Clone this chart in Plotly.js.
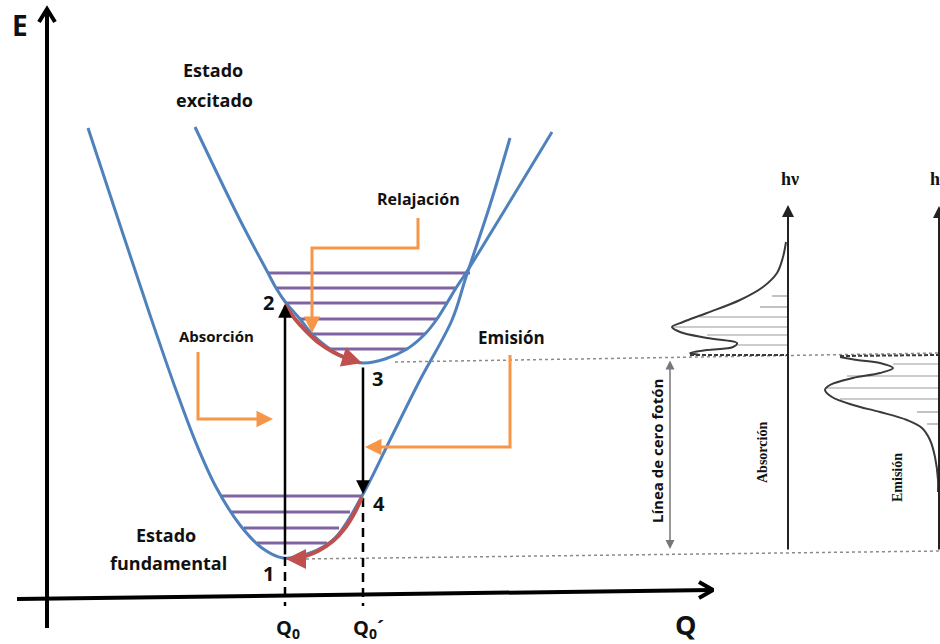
<!DOCTYPE html>
<html>
<head>
<meta charset="utf-8">
<script src="https://cdn.plot.ly/plotly-3.0.1.min.js"></script>
<style>
  html, body { margin: 0; padding: 0; background: #ffffff; }
  #chart { width: 940px; height: 644px; }
</style>
</head>
<body>
<div id="chart"></div>
<script>
// Configuration-coordinate diagram: ground and excited potential wells,
// vibrational levels, absorption / emission transitions and the two band shapes.
// Coordinates live in a 940 x 644 frame whose y axis points downward.

// Potential wells (sampled along each curve)
const groundCurveX  = [88, 120, 150, 176, 196, 216, 240, 262, 283, 310, 335, 362, 390, 420, 452, 466, 490, 510];
const groundCurveY  = [128, 225, 315, 390, 443, 487, 525, 548, 558, 553, 538, 496, 440, 380, 320, 277, 205, 138];
const excitedCurveX = [195, 240, 268, 276, 286, 300, 312, 330, 345, 363, 385, 407, 425, 437, 447, 456, 466, 552];
const excitedCurveY = [127, 220, 273, 288, 303, 319, 334, 349, 358, 363, 359, 349, 334, 319, 303, 288, 273, 132];

// Vibrational levels (energy, left end, right end)
const excitedLevelY = [273, 288, 303, 319, 334, 349];
const excitedLevelL = [268, 276, 286, 300, 312, 330];
const excitedLevelR = [470, 457, 448, 437, 425, 407];
const groundLevelY  = [496, 512, 528, 543];
const groundLevelL  = [220, 231, 244, 257];
const groundLevelR  = [362, 350, 339, 327];

// Non-radiative relaxation paths (excited: 2 -> 3, ground: 4 -> 1)
const relaxExcitedX = [285, 295, 306, 319, 333, 346];
const relaxExcitedY = [305, 319, 331, 343, 352, 358];
const relaxGroundX  = [362, 355, 345, 333, 318, 303, 296];
const relaxGroundY  = [497, 512, 528, 541, 551, 557, 559];

// Transition points 1..4
const pointLabels = ['1', '2', '3', '4'];
const pointLabelX = [268, 268, 377, 379];
const pointLabelY = [573, 302, 378, 503];

// Absorption band (intensity grows to the left of the hν axis)
const absBandX = [786, 783, 777, 763, 740, 707, 683, 672, 680, 707, 737, 733, 707, 690, 700];
const absBandY = [242, 257, 273, 287, 300, 313, 322, 327, 332, 338, 343, 347, 350, 353, 355];
const absHatchY = [296, 307, 317, 327, 335, 345];
const absHatchX = [772, 760, 700, 673, 707, 738];

// Emission band
const emiBandX = [840, 857, 880, 893, 880, 853, 830, 825, 832, 853, 880, 907, 922, 930, 935, 938, 938];
const emiBandY = [357, 360, 363, 368, 373, 378, 385, 390, 397, 405, 412, 420, 428, 440, 457, 480, 492];
const emiHatchY = [364, 376, 388, 399, 412, 424];
const emiHatchX = [893, 847, 827, 840, 917, 927];

const BLUE = 'rgb(79,129,189)';
const PURPLE = 'rgb(128,100,162)';
const ORANGE = 'rgb(247,150,70)';
const RED = 'rgb(192,80,77)';
const SANS = '"Open Sans", Lato, sans-serif';
const SERIF = '"Liberation Serif", "DejaVu Serif", serif';

const traces = [];
function line(xs, ys, color, width, dash, shape) {
  traces.push({
    type: 'scatter', mode: 'lines', x: xs, y: ys, hoverinfo: 'skip',
    line: { color: color, width: width, dash: dash || 'solid', shape: shape || 'linear', smoothing: 1 }
  });
}

// vibrational levels first so the wells sit on top
excitedLevelY.forEach((y, i) => line([excitedLevelL[i], excitedLevelR[i]], [y, y], PURPLE, 3));
groundLevelY.forEach((y, i) => line([groundLevelL[i], groundLevelR[i]], [y, y], PURPLE, 3));

// wells
line(groundCurveX, groundCurveY, BLUE, 3, 'solid', 'spline');
line(excitedCurveX, excitedCurveY, BLUE, 3, 'solid', 'spline');

// reference lines toward the spectra
line([395, 940], [362, 353], '#8a8a8a', 1.5, 'dot');
line([300, 940], [559, 551], '#8a8a8a', 1.5, 'dot');
line([690, 788], [355, 355], '#3a3a3a', 2, '4px,2px');
line([840, 940], [356, 355], '#3a3a3a', 2, '4px,2px');

// dashed projections to Q0 and Q0'
line([285, 285], [557, 606], '#000', 2.5, '9px,6px');
line([363, 363], [498, 606], '#000', 2.5, '9px,6px');

// relaxation paths
line(relaxExcitedX, relaxExcitedY, RED, 4, 'solid', 'spline');
line(relaxGroundX, relaxGroundY, RED, 4, 'solid', 'spline');

// orange callout leaders
line([418, 418, 312, 312], [218, 248, 248, 318], ORANGE, 3);
line([198, 198, 258], [352, 419, 419], ORANGE, 3);
line([510, 510, 380], [355, 447, 447], ORANGE, 3);

// main axes
line([47, 47], [628, 10], '#000', 4);
line([39, 47, 55], [22, 9, 22], '#000', 4);
line([17, 712], [599, 590], '#000', 4);
line([699, 713, 699], [582, 590, 598], '#000', 4);

// spectra: hatching, band outline
absHatchY.forEach((y, i) => line([absHatchX[i], 788], [y, y], '#9a9a9a', 1.2));
emiHatchY.forEach((y, i) => line([emiHatchX[i], 939], [y, y], '#9a9a9a', 1.2));
line(absBandX, absBandY, '#3a3a3a', 2, 'solid', 'spline');
line(emiBandX, emiBandY, '#3a3a3a', 2, 'solid', 'spline');

function arrow(x0, y0, x1, y1, color, width, head, size, sides) {
  return {
    x: x1, y: y1, ax: x0, ay: y0, xref: 'x', yref: 'y', axref: 'x', ayref: 'y',
    showarrow: true, text: '', arrowcolor: color, arrowwidth: width,
    arrowhead: head, arrowsize: size, arrowside: sides || 'end',
    standoff: 0, startstandoff: 0
  };
}
function label(text, x, y, size, opts) {
  opts = opts || {};
  return {
    x: x, y: y, xref: 'x', yref: 'y', text: text, showarrow: false,
    xanchor: opts.xanchor || 'center', yanchor: 'middle', textangle: opts.angle || 0,
    borderpad: 0,
    font: { family: opts.family || SANS, size: size, color: opts.color || '#111', weight: opts.weight || 'bold' }
  };
}

const annotations = [
  // vertical transitions
  arrow(285, 556, 285, 304, '#000', 2.5, 2, 1.1),
  arrow(363, 366, 363, 494, '#000', 2.5, 2, 1.1),
  // relaxation arrow heads
  arrow(346, 358, 362, 363, RED, 4, 2, 1.0),
  arrow(297, 559, 286, 559, RED, 4, 2, 1.0),
  // callout heads
  arrow(312, 316, 312, 333, ORANGE, 3, 2, 1.1),
  arrow(256, 419, 273, 419, ORANGE, 3, 2, 1.1),
  arrow(382, 447, 365, 447, ORANGE, 3, 2, 1.1),
  // spectra axes and the zero-phonon bracket
  arrow(788, 551, 788, 205, '#222', 2, 2, 1.2),
  arrow(939, 551, 939, 206, '#222', 2, 2, 1.2),
  arrow(670, 359, 670, 549, '#777', 1.5, 2, 1.2, 'end+start'),

  label('E', 20, 25, 28),
  label('Q', 686, 624, 27),
  label('Q<sub>0</sub>', 288, 628, 20),
  label('Q<sub>0</sub>´', 368, 628, 20),
  label('Estado', 213, 70, 18),
  label('excitado', 214, 100, 18),
  label('Estado', 166, 535, 18),
  label('fundamental', 168, 563, 18),
  label('Relajación', 418, 199, 16),
  label('Absorción', 216, 336, 15),
  label('Emisión', 511, 337, 17),
  label('Línea de cero fotón', 657, 451, 15, { angle: -90 }),
  label('Absorción', 762, 453, 14, { angle: -90, family: SERIF }),
  label('Emisión', 897, 478, 14, { angle: -90, family: SERIF }),
  label('hν', 790, 179, 18, { family: SERIF }),
  label('hν', 929, 179, 18, { family: SERIF, xanchor: 'left' })
];
pointLabels.forEach((t, i) => annotations.push(label(t, pointLabelX[i], pointLabelY[i], 20)));

const layout = {
  width: 940, height: 644,
  margin: { l: 0, r: 0, t: 0, b: 0 },
  paper_bgcolor: '#ffffff', plot_bgcolor: '#ffffff',
  showlegend: false,
  xaxis: { range: [0, 940], visible: false, fixedrange: true },
  yaxis: { range: [644, 0], visible: false, fixedrange: true },
  annotations: annotations
};

Plotly.newPlot('chart', traces, layout, { staticPlot: true, displayModeBar: false });
</script>
</body>
</html>
